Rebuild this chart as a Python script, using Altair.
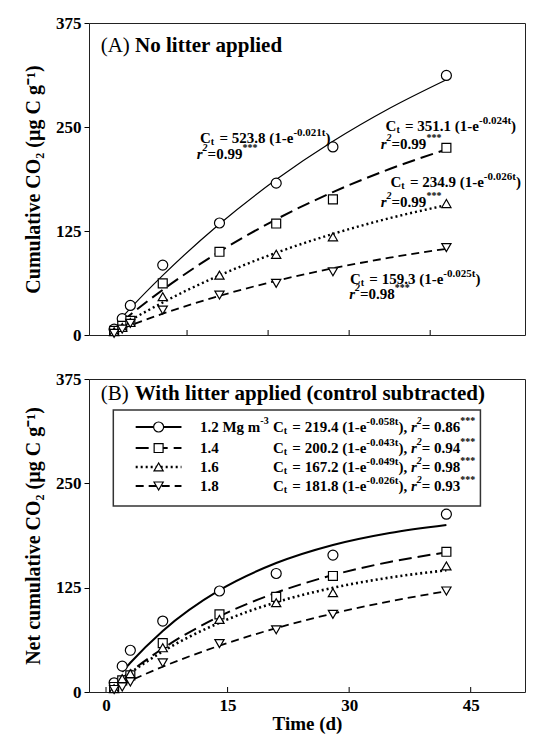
import altair as alt
import pandas as pd

FONT = "Liberation Serif"
NB = "\u00a0"

# ---------------- data ----------------
days = [1, 2, 3, 7, 14, 21, 28, 42]
fit_days = [2, 3, 7, 14, 21, 28, 35, 42]
densities = ["1.2", "1.4", "1.6", "1.8"]

# (A) observed cumulative CO2
a_obs_12 = [7, 19.6, 35.5, 84, 134.6, 182.5, 226, 312]
a_obs_14 = [5, 11, 17, 62, 100, 134, 163, 225]
a_obs_16 = [4, 9, 15, 46, 72, 97, 118, 158]
a_obs_18 = [2, 7, 14, 30, 48, 62, 76, 105]
# (A) fitted curves
a_fit_12 = [21.5, 32.0, 71.6, 133.5, 186.8, 232.9, 272.6, 306.9]
a_fit_14 = [16.5, 24.4, 54.3, 100.2, 139.0, 171.8, 199.5, 223.0]
a_fit_16 = [11.9, 17.6, 39.1, 71.7, 98.8, 121.5, 140.4, 156.1]
a_fit_18 = [7.8, 11.5, 25.6, 47.0, 65.1, 80.2, 92.9, 103.6]

# (B) observed net cumulative CO2
b_obs_12 = [11, 31, 50, 85, 121, 142, 164, 213]
b_obs_14 = [6, 14, 20, 58.5, 93, 114, 139, 168]
b_obs_16 = [4, 16, 22, 53, 87, 107, 119, 151]
b_obs_18 = [3, 6, 12, 35, 58, 74.5, 93, 121]
# (B) fitted curves
b_fit_12 = [24.0, 35.0, 73.2, 122.0, 154.5, 176.2, 190.6, 200.2]
b_fit_14 = [16.5, 24.2, 52.1, 90.6, 119.0, 140.1, 155.8, 167.3]
b_fit_16 = [15.6, 22.9, 48.6, 83.0, 107.5, 124.8, 137.1, 145.8]
b_fit_18 = [9.2, 13.6, 30.3, 55.5, 76.5, 94.0, 108.6, 120.8]

a_coef = ["523.8", "351.1", "234.9", "159.3"]
a_rate = ["0.021", "0.024", "0.026", "0.025"]
a_r2 = ["0.99", "0.99", "0.99", "0.98"]
b_coef = ["219.4", "200.2", "167.2", "181.8"]
b_rate = ["0.058", "0.043", "0.049", "0.026"]
b_r2 = ["0.86", "0.94", "0.98", "0.93"]
legend_labels = ["1.2 Mg m", "1.4", "1.6", "1.8"]

x_ticks_a = [10, 20, 30, 40]
x_ticks_b = [0, 15, 30, 45]
y_ticks = [0, 125, 250, 375]

# ---------------- layout (annotation anchors, data units) ----------------
a_eq_x = [11.6, 34.5, 35.1, 30.1]
a_eq_y = [236.8, 251.2, 183.9, 67.3]
a_r2_x = [11.2, 33.9, 33.9, 30.0]
a_r2_y = [217.5, 229.6, 159.9, 49.3]
title_x = -0.66
a_title_y = 347.4
b_title_y = 357.0
box_x = [0.9, 46.2]
box_y = [222.9, 337.9]
leg_rows = [317.5, 292.3, 269.6, 246.8]
leg_line_x = [3.66, 9.31]
leg_mark_x = 6.49
leg_label_x = 11.59
leg_eq_x = 20.6

PW = 436
HA = 312
HB = 313
XDOM = [-2.1, 51.7]
xs = alt.Scale(domain=XDOM, nice=False, zero=False)
ys = alt.Scale(domain=[0, 375], nice=False, zero=False)

styles = {
    "1.2": dict(shape="circle", size=100, dash=None, wa=1.2, wb=2.0),
    "1.4": dict(shape="square", size=80, dash=[13, 6], wa=2.0, wb=2.0),
    "1.6": dict(shape="triangle-up", size=85, dash=[2, 3], wa=2.4, wb=2.6),
    "1.8": dict(shape="triangle-down", size=85, dash=[8, 5], wa=1.8, wb=1.8),
}

# Times-metric advance widths (per 1000 em)
W_BOLD = {**{d: 500 for d in "0123456789"}, " ": 250, NB: 250, "(": 333, ")": 333, "-": 333,
          ".": 250, "=": 570, "C": 722, "e": 444, "t": 333, ",": 250, "*": 500,
          "M": 944, "g": 500, "m": 833, "r": 444, "A": 722, "B": 667, "N": 722,
          "o": 500, "l": 278, "i": 278, "a": 500, "p": 556, "d": 556, "W": 1000,
          "h": 556, "c": 444, "n": 556, "s": 389, "u": 556, "b": 556}
W_BI = {"r": 389, "2": 500}
W_REG = {"(": 333, ")": 333, " ": 250, NB: 250, "A": 722, "B": 667}


def text_width(s, size, style="normal", weight="bold"):
    if style == "italic":
        tab = W_BI
    elif weight == "normal":
        tab = W_REG
    else:
        tab = W_BOLD
    return sum(tab.get(ch, W_BOLD.get(ch, 500)) for ch in s) * size / 1000.0


class Axes:
    def __init__(self, xax, yax):
        self.x = xax
        self.y = yax


def rich(ax, xv, yv, pieces):
    """Run of text pieces laid out left to right from (x, y); each piece is
    right-aligned at its computed end.
    pieces: (texts, size, dy, style, weight, extra_gap_after)"""
    data = {"x": xv, "y": yv}
    for i, p in enumerate(pieces):
        data[f"p{i}"] = [s.replace(" ", NB) for s in p[0]]
    df = pd.DataFrame(data)
    layers = []
    pos = 0.0
    for i, p in enumerate(pieces):
        texts, size, dy, style, weight = p[:5]
        gap = p[5] if len(p) > 5 else 0.0
        end = pos + text_width(texts[0], size, style, weight)
        layers.append(
            alt.Chart(df).mark_text(
                align="right", baseline="middle", dx=round(end, 2), dy=dy,
                fontSize=size, font=FONT, fontStyle=style, fontWeight=weight,
                color="black",
            ).encode(
                x=alt.X("x:Q", scale=xs, axis=ax.x),
                y=alt.Y("y:Q", scale=ys, axis=ax.y),
                text=alt.Text(f"p{i}:N"),
            )
        )
        pos = end + gap
    return layers


def line_layer(ax, tvals, vvals, st, width):
    df = pd.DataFrame({"t": tvals, "v": vvals})
    kw = dict(color="black", strokeWidth=width, interpolate="monotone")
    if st["dash"] is not None:
        kw["strokeDash"] = st["dash"]
    return alt.Chart(df).mark_line(**kw).encode(
        x=alt.X("t:Q", scale=xs, axis=ax.x),
        y=alt.Y("v:Q", scale=ys, axis=ax.y),
    )


def point_layer(ax, tvals, vvals, st):
    df = pd.DataFrame({"t": tvals, "v": vvals})
    return alt.Chart(df).mark_point(
        shape=st["shape"], size=st["size"], filled=True, fill="white",
        stroke="black", strokeWidth=1.2, opacity=1,
    ).encode(
        x=alt.X("t:Q", scale=xs, axis=ax.x),
        y=alt.Y("v:Q", scale=ys, axis=ax.y),
    )


def tick_layer(ax, vals, h):
    df = pd.DataFrame({"t": vals})
    return alt.Chart(df).mark_rule(color="black", strokeWidth=1).encode(
        x=alt.X("t:Q", scale=xs, axis=ax.x),
        y=alt.value(h),
        y2=alt.value(h - 5),
    )


def y_axis(title):
    return alt.Axis(values=y_ticks, tickSize=5, tickColor="black", labelPadding=3,
                    titlePadding=12, title=title)


SP15 = text_width(" ", 15)
SP21 = text_width(" ", 21, weight="normal")

EQ = lambda coefs, rates: [
    (["C"] * 4, 15, 0, "normal", "bold"),
    (["t"] * 4, 10, 4, "normal", "bold", 1.5 + SP15),
    ([f"= {c} (1-e" for c in coefs], 15, 0, "normal", "bold"),
    ([f"-{k}t" for k in rates], 11, -5, "normal", "bold"),
]

# ---------------- panel A ----------------
ax_a = Axes(None, y_axis("Cumulative CO\u2082 (\u00b5g C g\u207b\u00b9)"))
a_obs = [a_obs_12, a_obs_14, a_obs_16, a_obs_18]
a_fit = [a_fit_12, a_fit_14, a_fit_16, a_fit_18]
layers_a = []
for i, d in enumerate(densities):
    layers_a.append(line_layer(ax_a, fit_days, a_fit[i], styles[d], styles[d]["wa"]))
for i, d in enumerate(densities):
    layers_a.append(point_layer(ax_a, days, a_obs[i], styles[d]))
layers_a.append(tick_layer(ax_a, x_ticks_a, HA))
layers_a += rich(ax_a, [title_x], [a_title_y], [
    (["(A)"], 21, 0, "normal", "normal", SP21),
    (["No litter applied"], 21, 0, "normal", "bold"),
])
layers_a += rich(ax_a, a_eq_x, a_eq_y, EQ(a_coef, a_rate) + [
    ([")"] * 4, 15, 0, "normal", "bold"),
])
layers_a += rich(ax_a, a_r2_x, a_r2_y, [
    (["r"] * 4, 15, 0, "italic", "bold"),
    (["2"] * 4, 10, -6, "italic", "bold"),
    ([f"={r}" for r in a_r2], 15, 0, "normal", "bold"),
    (["***"] * 4, 10, -6, "normal", "bold"),
])
panel_a = alt.layer(*layers_a).properties(width=PW, height=HA)

# ---------------- panel B ----------------
xaxis_b = alt.Axis(values=x_ticks_b, ticks=False, tickSize=0, labelPadding=5,
                   title="Time (d)", titlePadding=1, labelFlush=False, titleFontSize=19)
ax_b = Axes(xaxis_b, y_axis("Net cumulative CO\u2082 (\u00b5g C g\u207b\u00b9)"))
b_obs = [b_obs_12, b_obs_14, b_obs_16, b_obs_18]
b_fit = [b_fit_12, b_fit_14, b_fit_16, b_fit_18]
layers_b = []
for i, d in enumerate(densities):
    layers_b.append(line_layer(ax_b, fit_days, b_fit[i], styles[d], styles[d]["wb"]))
for i, d in enumerate(densities):
    layers_b.append(point_layer(ax_b, days, b_obs[i], styles[d]))
layers_b.append(tick_layer(ax_b, x_ticks_b, HB))
# legend box
box_df = pd.DataFrame({"x": [box_x[0]], "x2": [box_x[1]], "y": [box_y[0]], "y2": [box_y[1]]})
layers_b.append(alt.Chart(box_df).mark_rect(fill="white", stroke="#333", strokeWidth=1.5).encode(
    x=alt.X("x:Q", scale=xs, axis=ax_b.x), x2="x2:Q",
    y=alt.Y("y:Q", scale=ys, axis=ax_b.y), y2="y2:Q"))
for i, d in enumerate(densities):
    st = styles[d]
    ldf = pd.DataFrame({"x": [leg_line_x[0]], "x2": [leg_line_x[1]], "y": [leg_rows[i]]})
    kw = dict(color="black", strokeWidth=st["wb"])
    if st["dash"] is not None:
        kw["strokeDash"] = st["dash"]
    layers_b.append(alt.Chart(ldf).mark_rule(**kw).encode(
        x=alt.X("x:Q", scale=xs, axis=ax_b.x), x2="x2:Q",
        y=alt.Y("y:Q", scale=ys, axis=ax_b.y)))
    layers_b.append(point_layer(ax_b, [leg_mark_x], [leg_rows[i]], st))
for i, lab in enumerate(legend_labels):
    layers_b += rich(ax_b, [leg_label_x], [leg_rows[i]], [
        ([lab], 15, 0, "normal", "bold"),
    ] + ([(["-3"], 10, -6, "normal", "bold")] if i == 0 else []))
layers_b += rich(ax_b, [leg_eq_x] * 4, leg_rows, EQ(b_coef, b_rate) + [
    (["),"] * 4, 15, 0, "normal", "bold", SP15),
    (["r"] * 4, 15, 0, "italic", "bold"),
    (["2"] * 4, 10, -6, "italic", "bold"),
    ([f"= {r}" for r in b_r2], 15, 0, "normal", "bold"),
    (["***"] * 4, 10, -6, "normal", "bold"),
])
layers_b += rich(ax_b, [title_x], [b_title_y], [
    (["(B)"], 21, 0, "normal", "normal", SP21),
    (["With litter applied (control subtracted)"], 21, 0, "normal", "bold"),
])
panel_b = alt.layer(*layers_b).properties(width=PW, height=HB)

chart = alt.vconcat(panel_a, panel_b, spacing=25).properties(
    padding={"left": 15, "top": 5, "right": 0, "bottom": 0},
    background="white",
).configure_view(stroke="#222", strokeWidth=1).configure_axis(
    labelFont=FONT, labelFontSize=17, labelFontWeight="bold", labelColor="black",
    titleFont=FONT, titleFontSize=20, titleFontWeight="bold", titleColor="black",
    domain=False, grid=False,
)

chart.save("out.html", embed_options={"renderer": "svg", "actions": False})
